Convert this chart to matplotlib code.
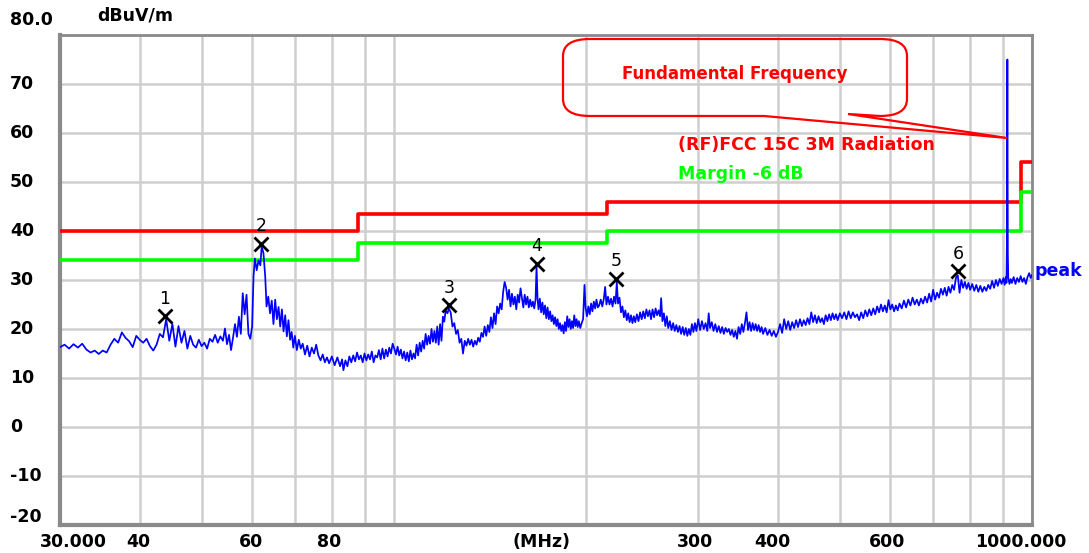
import matplotlib
matplotlib.use("Agg")
import matplotlib.pyplot as plt
from matplotlib.path import Path
from matplotlib.patches import PathPatch

W, H = 1089, 553

# ---------------- data ----------------
trace_freq = [
    30.0, 30.5, 31.0, 31.5, 32.0, 32.5, 33.0, 33.5, 34.0, 34.5,
    35.0, 35.5, 36.0, 36.5, 37.0, 37.5, 38.0, 38.5, 39.0, 39.5,
    40.0, 40.5, 41.0, 41.5, 42.0, 42.5, 43.0, 43.5, 44.0, 44.5,
    45.0, 45.5, 46.0, 46.5, 47.0, 47.5, 48.0, 48.5, 49.0, 49.5,
    50.0, 50.5, 51.0, 51.5, 52.0, 52.5,
    53.0, 53.5, 54.0, 54.4, 54.8, 55.2, 55.6, 56.0, 56.4, 56.8,
    57.2, 57.6, 58.0, 58.4, 58.8, 59.2, 59.6, 60.0, 60.3, 60.6,
    61.0, 61.4, 61.8, 62.1, 62.5, 62.9, 63.2, 63.6, 64.0, 64.4,
    64.8, 65.2, 65.6, 66.0, 66.4, 66.8, 67.2, 67.6, 68.0, 68.4,
    68.8, 69.2, 69.6, 70.0, 70.5, 71.0, 71.5, 72.0, 72.6, 73.2,
    73.8, 74.4, 75.0, 75.6, 76.2, 76.8, 77.4, 78.0, 78.6, 79.2,
    80.0, 80.8, 81.6, 82.4, 83.0, 83.4, 84.0, 84.6, 85.2, 85.8,
    86.4, 87.0, 87.6, 88.2, 88.8, 89.4, 90.0, 90.6, 91.2, 91.8,
    92.4, 93.0, 93.6, 94.2, 94.8, 95.4, 96.0,
    96.6, 97.2, 97.8, 98.4, 99.0, 99.6, 100.2, 100.8, 101.4, 102.0,
    102.6, 103.2, 103.8, 104.4, 105.0, 105.6, 106.2, 106.8, 107.4, 108.0,
    108.6, 109.2, 109.8, 110.4, 111.0, 111.6, 112.2, 112.8, 113.4, 114.0,
    114.6, 115.2, 115.8, 116.4, 117.0, 117.6, 118.2, 118.8, 119.4, 120.0,
    120.6, 121.4, 122.0, 122.8, 123.6, 124.4, 125.2, 126.0, 126.8, 127.6,
    128.4, 129.2, 130.0, 130.8, 131.6, 132.4, 133.2, 134.0, 134.8, 135.6,
    136.4, 137.2, 138.0, 138.8, 139.6, 140.4, 141.2, 142.0, 142.8, 143.6,
    144.4, 145.2, 146.0, 146.8, 147.6, 148.4, 149.2, 150.0, 150.8, 151.6,
    152.4, 153.2, 154.0, 154.8, 155.6, 156.4, 157.2, 158.0, 158.8, 159.6,
    160.4, 161.2, 162.0, 162.8, 163.6, 164.4, 165.2, 166.0, 166.8, 167.4,
    168.0, 168.6,
    169.4, 170.2, 171.0, 171.8, 172.6, 173.4, 174.2, 175.0, 175.8, 176.6,
    177.4, 178.2, 179.0, 179.8, 180.6, 181.4, 182.2, 183.0, 183.8, 184.6,
    185.4, 186.2, 187.0, 187.8, 188.6, 189.4, 190.2, 191.0, 191.8, 192.6,
    193.4, 194.2, 195.0, 196.0, 197.0, 198.0, 199.0, 199.8, 200.8, 201.8,
    202.8, 203.8, 204.8, 205.8, 206.8, 207.8, 208.8, 209.8, 211.0, 212.2,
    213.4, 214.4, 215.4, 216.6, 217.8, 219.0, 220.2, 221.4, 222.6, 223.6,
    224.6, 225.8, 227.0, 228.2, 229.4, 230.6, 231.8, 233.0, 234.2, 235.4,
    236.6, 237.8, 239.0, 240.4, 241.8, 243.2, 244.6, 246.0, 247.4, 248.8,
    250.2, 251.6, 253.0, 254.4, 255.8, 257.2, 258.6, 260.0, 261.4, 262.4,
    263.6, 265.0, 266.4, 267.8, 269.2, 270.8, 272.4, 274.0, 275.6, 277.2,
    278.8, 280.4, 282.0, 283.6, 285.2, 286.8, 288.4, 290.0, 291.6, 293.2,
    294.8, 296.4, 298.0,
    300, 302, 304, 306, 308, 310, 311.5, 313, 315, 317,
    319, 321, 323, 325, 327, 329, 331, 333, 335, 337,
    339, 341, 343, 345, 347, 349, 351, 353, 355, 357,
    359, 361, 363, 365, 367, 369, 371, 373, 375, 377,
    379, 382, 385, 388, 391, 394, 397, 400, 403, 406,
    409, 412, 415, 418, 421, 424, 427, 430, 433, 436,
    439, 442, 445, 448, 451, 454, 457, 460, 463, 466,
    469, 472, 475, 478, 481, 484, 487, 490, 493, 496,
    500, 504, 508, 512, 516, 520, 524, 528,
    532, 536, 540, 544, 548, 552, 556, 560, 564, 568,
    572, 576, 580, 584, 588, 592, 596, 600, 604, 608,
    612, 616, 620, 625, 630, 635, 640, 645, 650, 655,
    660, 665, 670, 675, 680, 685, 690, 695, 700, 705,
    710, 715, 720, 725, 730, 735, 740, 745, 750, 755,
    760, 765, 770, 775, 780, 785, 790, 795, 800, 806,
    812, 818, 824, 830, 836, 842, 848, 854, 860, 866,
    872, 878, 884, 890, 896, 902, 906, 910, 912, 913.5,
    914.5, 915, 915.5, 916.5, 918, 922, 926, 930, 936, 942,
    948, 954, 960, 966, 972, 978, 984, 990, 995, 1000,
]
trace_level = [
    16.3, 16.8, 16.0, 16.9, 16.2, 17.0, 15.8, 15.2, 15.6, 14.9,
    15.6, 15.2, 16.8, 18.0, 17.2, 19.3, 18.2, 17.5, 16.3, 18.6,
    17.8, 17.2, 18.0, 16.5, 15.6, 16.8, 19.0, 18.3, 22.0, 17.6,
    21.0, 16.4, 20.6, 17.2, 19.6, 16.0, 18.6, 16.8, 16.2, 17.8,
    16.5, 17.2, 16.0, 18.0, 17.4, 18.8,
    17.2, 18.5, 17.6, 20.1, 16.9, 18.8, 15.7, 18.2, 21.0, 18.4,
    22.5, 19.0, 27.3, 23.0, 27.0, 19.0, 18.0, 20.5, 30.7, 34.4,
    32.0, 34.0, 33.0, 36.8, 35.5, 30.7, 24.6, 26.6, 23.2, 25.8,
    21.0, 26.0, 22.0, 24.5, 20.5, 24.0, 19.5, 22.8, 18.5, 21.8,
    17.8, 19.4, 16.2, 18.6, 15.7, 17.8, 16.0, 17.0, 14.8, 16.6,
    14.4, 16.2, 15.0, 16.8, 14.6, 13.6, 14.8, 13.2, 14.2, 13.0,
    14.4, 12.6, 14.2, 12.4, 13.8, 11.6, 13.6, 12.4, 14.4, 13.2,
    14.6, 13.4, 15.2, 13.8, 14.6, 13.2, 15.0, 13.6, 14.8, 13.8,
    15.4, 13.2, 14.6, 14.2, 15.7, 13.8, 16.0,
    14.0, 15.8, 14.4, 16.2, 15.0, 17.0, 16.0, 14.8, 16.4, 14.6,
    15.8, 14.0, 15.4, 13.6, 15.2, 13.4, 15.6, 13.8, 15.0, 14.0,
    16.8, 14.6, 17.2, 15.4, 17.6, 16.0, 19.0, 16.8, 18.6, 17.0,
    20.0, 17.4, 19.6, 17.2, 20.5, 16.8, 21.0, 17.6, 22.5, 21.5,
    23.8, 23.2, 24.2, 23.4, 20.5, 21.2, 19.0, 19.8, 17.2, 18.0,
    15.0, 17.6, 16.6, 18.0, 16.8, 17.8, 16.4, 17.6, 16.8, 18.2,
    17.4, 19.2, 18.4, 20.5, 18.6, 20.8, 19.4, 22.4, 20.2, 23.2,
    21.0, 24.6, 23.2, 25.2, 24.0, 27.6, 29.6, 28.4, 26.0, 28.0,
    24.6, 27.2, 25.0, 26.6, 24.0, 27.0, 25.4, 28.3, 26.4, 24.4,
    27.0, 25.0, 26.6, 24.4, 26.0, 24.6, 25.6, 24.2, 26.0, 32.8,
    26.2, 24.0,
    26.2, 23.4, 25.4, 23.0, 24.8, 22.2, 24.4, 22.0, 23.6, 21.6,
    22.8, 21.0, 22.4, 20.6, 22.0, 20.0, 21.2, 19.6, 20.8, 19.1,
    21.4, 19.6, 22.6, 20.4, 22.0, 20.0, 21.6, 20.2, 22.8, 20.6,
    22.0, 20.4, 21.6, 20.2, 21.2, 22.0, 29.0, 24.4, 22.6, 24.6,
    23.0, 25.2, 23.6, 25.6, 24.2, 26.0, 24.4, 24.8, 26.0, 24.6,
    26.2, 28.6, 25.0, 26.6, 25.0, 26.2, 24.6, 26.6, 25.2, 29.6,
    25.2, 26.4, 23.4, 24.6, 22.4, 23.8, 21.8, 23.2, 21.4, 22.8,
    21.2, 22.6, 21.4, 23.0, 21.6, 23.4, 22.0, 23.6, 22.2, 24.0,
    22.6, 23.8, 22.0, 24.0, 22.4, 24.2, 22.8, 23.8, 22.6, 26.3,
    21.6, 23.2, 20.6, 22.6, 20.2, 21.6, 19.8, 21.2, 19.6, 20.8,
    19.4, 20.6, 19.0, 20.4, 18.8, 20.2, 18.6, 20.0, 18.8, 21.0,
    19.4, 21.2, 19.6,
    22.0, 19.8, 21.6, 20.0, 21.2, 19.6, 23.2, 20.2, 21.4, 19.6,
    21.0, 19.4, 20.6, 19.2, 20.4, 19.0, 20.2, 19.4, 20.0, 18.8,
    19.8, 18.4, 19.6, 18.0, 20.4, 19.0, 21.0, 19.4, 21.2, 23.4,
    19.8, 21.4, 19.6, 21.2, 19.8, 21.0, 19.6, 20.8, 19.4, 20.4,
    19.0, 20.2, 18.8, 19.8, 18.6, 19.6, 18.4, 19.4, 21.0, 19.2,
    22.0, 20.0, 21.6, 19.8, 21.4, 20.2, 21.8, 20.4, 22.0, 20.6,
    21.8, 20.8, 22.2, 21.0, 23.4, 21.4, 22.8, 21.2, 22.6, 21.4,
    22.2, 21.0, 22.8, 21.6, 23.0, 21.8, 23.2, 22.0, 23.0, 21.8,
    23.2, 22.2, 23.4, 22.0, 23.6, 22.2, 23.4, 22.4,
    23.0, 21.8, 23.4, 22.2, 23.8, 22.6, 24.0, 22.8, 24.2, 23.0,
    24.6, 23.4, 25.0, 23.6, 24.8, 23.4, 25.9, 24.0, 25.0, 23.6,
    24.8, 23.8, 25.2, 24.2, 25.8, 24.4, 26.0, 24.8, 26.4, 25.0,
    26.0, 24.8, 26.2, 25.2, 26.6, 25.4, 27.2, 25.6, 28.0, 26.0,
    27.4, 26.4, 28.2, 27.0, 28.4, 26.8, 28.6, 27.4, 29.0, 28.0,
    30.4, 31.0, 27.4, 30.0, 28.4, 29.6, 28.2, 29.4, 28.0, 29.2,
    27.8, 29.0, 27.6, 28.8, 27.6, 28.6, 27.8, 29.0, 28.2, 29.8,
    28.4, 30.0, 28.8, 30.2, 29.2, 30.4, 29.0, 30.6, 29.4, 38.2,
    61.0, 75.0, 61.0, 35.4, 30.4, 29.2, 30.2, 29.4, 30.6, 29.2,
    30.4, 29.6, 30.8, 29.6, 30.4, 29.2, 30.6, 31.4, 30.4, 31.0,
]

limit_freq = [30, 88, 88, 216, 216, 960, 960, 1000]
limit_level = [40.0, 40.0, 43.5, 43.5, 46.0, 46.0, 54.0, 54.0]
margin_level = [34.0, 34.0, 37.5, 37.5, 40.0, 40.0, 48.0, 48.0]

marker_labels = ["1", "2", "3", "4", "5", "6"]
marker_freq = [43.8, 62.0, 122.0, 167.4, 223.0, 767.0]
marker_level = [22.6, 37.4, 24.8, 33.3, 30.3, 31.8]

y_ticks = [80, 70, 60, 50, 40, 30, 20, 10, 0, -10, -20]
y_tick_labels = ["80.0", "70", "60", "50", "40", "30", "20", "10", "0", "-10", "-20"]
x_grid = [30, 40, 50, 60, 70, 80, 90, 100, 200, 300, 400, 500, 600, 700, 800, 900, 1000]
x_tick_vals = [30, 40, 60, 80, 300, 400, 600, 1000]
x_tick_labels = ["30.000", "40", "60", "80", "300", "400", "600", "1000.000"]

# ---------------- figure ----------------
fig = plt.figure(figsize=(W / 100, H / 100), dpi=100)
fig.patch.set_facecolor("white")
L, R, T, B = 60, 1032, 35, 525
ax = fig.add_axes([L / W, 1 - B / H, (R - L) / W, (B - T) / H])
ax.set_xscale("log")
ax.set_xlim(30, 1000)
ax.set_ylim(-20, 80)

ax.set_xticks(x_grid)
ax.set_xticks([], minor=True)
ax.set_yticks(y_ticks)
ax.set_xticklabels([])
ax.set_yticklabels([])
ax.tick_params(length=0, which="both")
ax.grid(True, color="#cfcfcf", lw=1.8)
ax.set_axisbelow(True)
for side, s in ax.spines.items():
    s.set_color("#8a8a8a")
    s.set_linewidth(2.0)
ax.spines["left"].set_linewidth(3.0)
ax.spines["bottom"].set_linewidth(3.0)

ax.plot(limit_freq, limit_level, color="#ff0000", lw=2.6, zorder=3)
ax.plot(limit_freq, margin_level, color="#00ff00", lw=2.6, zorder=3)
ax.plot(trace_freq, trace_level, color="#0000ff", lw=1.25, zorder=4)

ax.plot(marker_freq, marker_level, "x", color="black", ms=10, mew=2.0, zorder=5)
for lab, f, v in zip(marker_labels, marker_freq, marker_level):
    ax.annotate(lab, (f, v), xytext=(0, 6), textcoords="offset points",
                ha="center", va="bottom", fontsize=12.5, color="black", zorder=6)


def P(x, y):
    return (x / W, 1 - y / H)


# y labels
bold = dict(fontweight="bold", family="DejaVu Sans")
for val, lab in zip(y_ticks, y_tick_labels):
    ypx = T + (80 - val) * (B - T) / 100
    if val == 80:
        ypx = 20
    if val == -20:
        ypx = 517
    fig.text(*P(10, ypx), lab, ha="left", va="center", fontsize=12.5, **bold)

fig.text(*P(97, 16), "dBuV/m", ha="left", va="center", fontsize=12.5, **bold)

# x labels
x_label_px = {30: 73, 40: 138, 60: 251, 80: 329, 300: 695, 400: 772, 600: 887, 1000: 1021}
for val, lab in zip(x_tick_vals, x_tick_labels):
    fig.text(*P(x_label_px[val], 542), lab, ha="center", va="center", fontsize=12.5, **bold)
fig.text(*P(541, 542), "(MHz)", ha="center", va="center", fontsize=12.5, **bold)

# legend-like texts
fig.text(*P(678, 145), "(RF)FCC 15C 3M Radiation", ha="left", va="center",
         fontsize=12.5, color="#ff0000", **bold)
fig.text(*P(678, 174), "Margin -6 dB", ha="left", va="center",
         fontsize=12.5, color="#00ff00", **bold)
fig.text(*P(1035, 271), "peak", ha="left", va="center", fontsize=12.5,
         color="#0000ff", **bold)

# callout bubble
pts = [
    (590, 39), (880, 39), (907, 39), (907, 56), (907, 99), (907, 116), (880, 116),
    (848, 114), (1007, 138), (764, 116), (590, 116), (563, 116), (563, 99),
    (563, 56), (563, 39), (590, 39),
]
codes = [Path.MOVETO, Path.LINETO, Path.CURVE3, Path.CURVE3, Path.LINETO, Path.CURVE3,
         Path.CURVE3, Path.LINETO, Path.LINETO, Path.LINETO, Path.LINETO, Path.CURVE3,
         Path.CURVE3, Path.LINETO, Path.CURVE3, Path.CURVE3]
verts = [P(x, y) for x, y in pts]
bubble = PathPatch(Path(verts, codes), facecolor="none", edgecolor="#ff0000",
                   lw=1.6, transform=fig.transFigure, zorder=7)
fig.add_artist(bubble)
fig.text(*P(735, 74), "Fundamental Frequency", ha="center", va="center",
         fontsize=12, color="#ff0000", **bold)

fig.savefig("out.png", dpi=100, facecolor="white")
